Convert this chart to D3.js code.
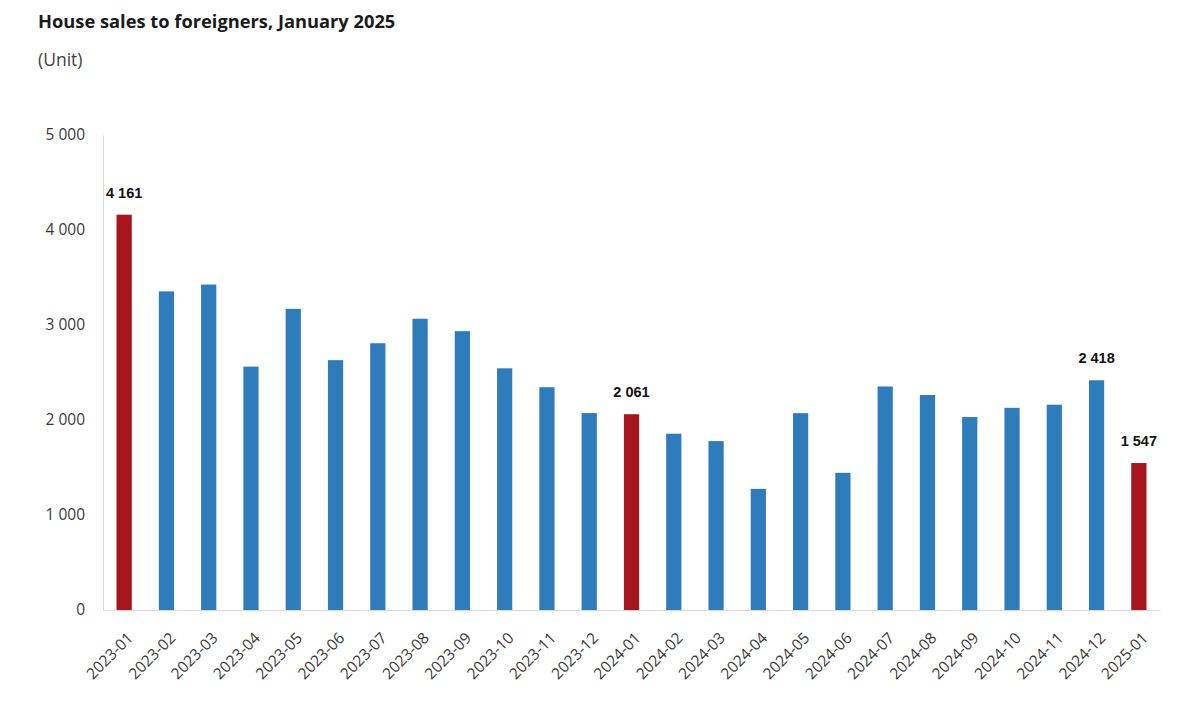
<!DOCTYPE html>
<html>
<head>
<meta charset="utf-8">
<script src="https://cdn.jsdelivr.net/npm/d3@7"></script>
<style>
  html, body { margin: 0; padding: 0; background: #ffffff; }
  svg { display: block; }
</style>
</head>
<body>
<svg id="chart" width="1200" height="720"></svg>
<script>
const categories = ["2023-01","2023-02","2023-03","2023-04","2023-05","2023-06","2023-07","2023-08","2023-09","2023-10","2023-11","2023-12",
  "2024-01","2024-02","2024-03","2024-04","2024-05","2024-06","2024-07","2024-08","2024-09","2024-10","2024-11","2024-12","2025-01"];
const sales = [4161,3354,3426,2562,3170,2630,2808,3066,2935,2544,2345,2073,
  2061,1856,1778,1275,2072,1444,2353,2263,2031,2128,2161,2418,1547];
const highlighted = ["2023-01","2024-01","2025-01"];
const labelled = ["2023-01","2024-01","2024-12","2025-01"];
const yTicks = [0,1000,2000,3000,4000,5000];
const title = "House sales to foreigners, January 2025";
const unit = "(Unit)";

const svg = d3.select("#chart");
const margin = {left: 103, right: 40, top: 135, bottom: 110};
const W = 1200, H = 720;
const x = d3.scaleBand().domain(categories).range([margin.left, W - margin.right]).paddingInner(0.64).paddingOuter(0.32);
const y = d3.scaleLinear().domain([0, 5000]).range([H - margin.bottom, margin.top]);
const fmtSp = v => d3.format(",")(v).replace(/,/g, " ");

svg.append("text").attr("x", 38).attr("y", 28)
  .attr("font-family", "'Open Sans', sans-serif").attr("font-weight", 700).attr("font-size", 18.3)
  .attr("fill", "#1a1a1a").text(title);
svg.append("text").attr("x", 38).attr("y", 66)
  .attr("font-family", "'Open Sans', sans-serif").attr("font-size", 17.5)
  .attr("fill", "#404040").text(unit);

// y axis
const yAxis = d3.axisLeft(y).tickValues(yTicks).tickFormat(fmtSp).tickSize(0).tickPadding(18);
const gy = svg.append("g").attr("transform", `translate(${margin.left},0)`).call(yAxis);
gy.select(".domain").attr("stroke", "#d9d9d9");
gy.selectAll("text").attr("font-family", "'Open Sans', sans-serif").attr("font-size", 15.5).attr("fill", "#3a3a3a");

// x axis
const xAxis = d3.axisBottom(x).tickSize(0).tickPadding(0);
const gx = svg.append("g").attr("transform", `translate(0,${y(0)})`).call(xAxis);
gx.select(".domain").attr("stroke", "#d9d9d9");
gx.selectAll("text")
  .attr("font-family", "'Open Sans', sans-serif").attr("font-size", 15.5).attr("fill", "#3a3a3a")
  .attr("text-anchor", "end").attr("dy", 0)
  .attr("transform", "translate(10,29) rotate(-45)");

// bars
svg.append("g").selectAll("rect").data(categories).join("rect")
  .attr("x", d => x(d)).attr("width", x.bandwidth())
  .attr("y", (d, i) => y(sales[i])).attr("height", (d, i) => y(0) - y(sales[i]))
  .attr("fill", d => highlighted.includes(d) ? "#a8141c" : "#2e7cbc");

// value labels
svg.append("g").selectAll("text").data(categories.filter(c => labelled.includes(c))).join("text")
  .attr("x", d => x(d) + x.bandwidth() / 2)
  .attr("y", d => y(sales[categories.indexOf(d)]) - 17)
  .attr("text-anchor", "middle")
  .attr("font-family", "'Liberation Sans', Arial, sans-serif").attr("font-weight", 700).attr("font-size", 14.5)
  .attr("fill", "#111").text(d => fmtSp(sales[categories.indexOf(d)]));
</script>
</body>
</html>
